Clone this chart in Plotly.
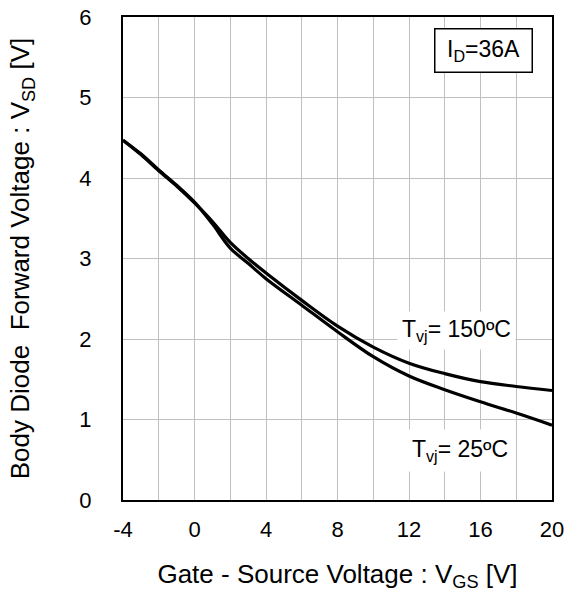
import plotly.graph_objects as go

vgs = [-4, -3, -2, -1, 0, 1, 2, 3, 4, 6, 8, 10, 12, 14, 16, 18, 20]
vsd_25 = [4.47, 4.30, 4.10, 3.91, 3.70, 3.43, 3.13, 2.94, 2.75, 2.42, 2.09, 1.78, 1.54, 1.37, 1.22, 1.08, 0.93]
vsd_150 = [4.47, 4.29, 4.09, 3.90, 3.69, 3.46, 3.20, 3.00, 2.82, 2.48, 2.16, 1.90, 1.70, 1.57, 1.47, 1.41, 1.36]

x_ticks = [-4, 0, 4, 8, 12, 16, 20]
x_tick_labels = ["-4", "0", "4", "8", "12", "16", "20"]
x_minor = [-2, 2, 6, 10, 14, 18]
y_ticks = [0, 1, 2, 3, 4, 5, 6]

FONT = "Liberation Sans, Arial, sans-serif"

fig = go.Figure()
fig.add_trace(go.Scatter(x=vgs, y=vsd_25, mode="lines", line=dict(color="black", width=3.2, shape="spline"),
                         showlegend=False, hoverinfo="skip"))
fig.add_trace(go.Scatter(x=vgs, y=vsd_150, mode="lines", line=dict(color="black", width=3.2, shape="spline"),
                         showlegend=False, hoverinfo="skip"))

fig.update_xaxes(range=[-4, 20], tickvals=x_ticks, ticktext=x_tick_labels, showgrid=True,
                 gridcolor="#c0c0c0", gridwidth=1, showline=True, linecolor="black", linewidth=2,
                 mirror=True, zeroline=False, ticks="", ticklabelstandoff=9, automargin=False,
                 tickfont=dict(family=FONT, size=22, color="black"),
                 title=dict(text="Gate - Source Voltage : V<sub>GS</sub> [V]", standoff=23,
                            font=dict(family=FONT, size=26, color="black")),
                 minor=dict(tickvals=x_minor, showgrid=True, gridcolor="#c0c0c0", gridwidth=1, ticks=""))
fig.update_yaxes(range=[0, 6], tickvals=y_ticks, showgrid=True,
                 gridcolor="#c0c0c0", gridwidth=1, showline=True, linecolor="black", linewidth=2,
                 mirror=True, zeroline=False, ticks="", ticklabelstandoff=25, automargin=False,
                 tickfont=dict(family=FONT, size=22, color="black"),
                 title=dict(text="Body Diode  Forward Voltage : V<sub>SD</sub> [V]", standoff=42,
                            font=dict(family=FONT, size=26, color="black")))

fig.add_annotation(x=16.14, y=5.59, xref="x", yref="y", text="I<sub>D</sub>=36A", showarrow=False,
                   font=dict(family=FONT, size=23, color="black"), bgcolor="white",
                   bordercolor="black", borderwidth=1.5, borderpad=1, width=94, height=40)
fig.add_annotation(x=14.63, y=2.11, xref="x", yref="y", text="T<sub>vj</sub>= 150ºC", showarrow=False,
                   font=dict(family=FONT, size=23, color="black"), bgcolor="white", borderpad=4)
fig.add_annotation(x=14.85, y=0.62, xref="x", yref="y", text="T<sub>vj</sub>= 25ºC", showarrow=False,
                   font=dict(family=FONT, size=23, color="black"), bgcolor="white", borderpad=6)

fig.update_layout(width=568, height=592, margin=dict(l=123, r=16, t=17, b=92),
                  plot_bgcolor="white", paper_bgcolor="white")

fig.write_html("out.html", config={"displayModeBar": False},
               post_script="document.body.style.margin='0';")
